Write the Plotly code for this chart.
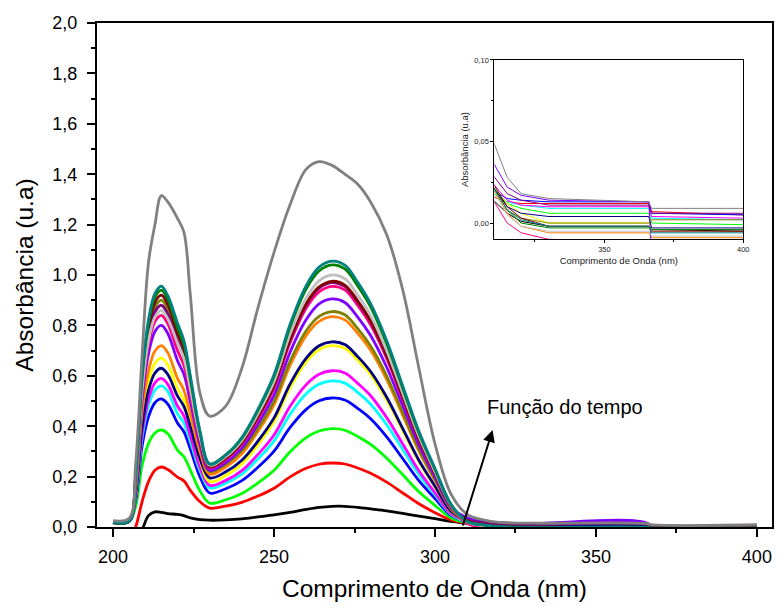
import plotly.graph_objects as go

# ---------------- data ----------------
wavelength_nm = [200, 205, 207, 209, 211, 213, 215, 217, 220, 222, 224, 227, 230, 235, 240,
                 245, 250, 255, 260, 264, 268, 272, 276, 280, 285, 290, 295, 300, 305, 310,
                 315, 320, 330, 366, 367, 400]

abs_black = [-0.10, -0.08, -0.05, -0.01, 0.045, 0.060, 0.058, 0.053, 0.050, 0.045, 0.036, 0.029,
             0.027, 0.028, 0.032, 0.040, 0.048, 0.058, 0.070, 0.078, 0.082, 0.082, 0.078, 0.072,
             0.064, 0.054, 0.043, 0.033, 0.022, 0.014, 0.006, 0.001, -0.002, -0.002, -0.004, -0.005]
abs_red = [-0.10, -0.05, 0.0, 0.10, 0.18, 0.225, 0.238, 0.228, 0.198, 0.183, 0.145, 0.10, 0.075,
           0.083, 0.098, 0.123, 0.154, 0.199, 0.233, 0.249, 0.254, 0.25, 0.234, 0.213, 0.178, 0.135,
           0.092, 0.057, 0.028, 0.016, 0.013, 0.012, 0.012, 0.012, 0.007, 0.005]
abs_green = [0.016, 0.022, 0.081, 0.243, 0.331, 0.373, 0.385, 0.37, 0.305, 0.279, 0.226, 0.143,
             0.095, 0.108, 0.133, 0.175, 0.225, 0.299, 0.355, 0.381, 0.39, 0.384, 0.359, 0.328,
             0.273, 0.207, 0.14, 0.086, 0.036, 0.018, 0.012, 0.009, 0.006, 0.006, 0.0, -0.001]
abs_blue = [0.016, 0.022, 0.107, 0.32, 0.437, 0.493, 0.508, 0.488, 0.413, 0.378, 0.309, 0.199,
            0.135, 0.152, 0.184, 0.237, 0.301, 0.395, 0.467, 0.501, 0.512, 0.504, 0.471, 0.43,
            0.358, 0.271, 0.184, 0.113, 0.046, 0.02, 0.015, 0.014, 0.013, 0.013, 0.006, 0.005]
abs_cyan = [0.016, 0.022, 0.118, 0.353, 0.482, 0.543, 0.56, 0.538, 0.45, 0.413, 0.339, 0.223,
            0.155, 0.174, 0.210, 0.270, 0.342, 0.448, 0.529, 0.567, 0.58, 0.571, 0.534, 0.487,
            0.406, 0.307, 0.209, 0.128, 0.05, 0.02, 0.013, 0.011, 0.009, 0.009, 0.003, 0.002]
abs_magenta = [0.017, 0.023, 0.124, 0.372, 0.507, 0.572, 0.59, 0.566, 0.48, 0.441, 0.362, 0.237,
               0.165, 0.185, 0.224, 0.288, 0.365, 0.479, 0.565, 0.606, 0.62, 0.611, 0.57, 0.521,
               0.434, 0.329, 0.223, 0.136, 0.053, 0.024, 0.014, 0.011, 0.010, 0.010, 0.004, 0.003]
abs_yellow = [0.017, 0.023, 0.141, 0.422, 0.576, 0.65, 0.67, 0.643, 0.55, 0.504, 0.411, 0.265,
              0.18, 0.204, 0.250, 0.326, 0.418, 0.553, 0.655, 0.704, 0.72, 0.709, 0.662, 0.605,
              0.504, 0.382, 0.259, 0.158, 0.061, 0.022, 0.012, 0.006, 0.0, 0.0, -0.004, -0.004]
abs_navy = [0.017, 0.023, 0.132, 0.397, 0.542, 0.611, 0.63, 0.605, 0.52, 0.479, 0.398, 0.27,
            0.195, 0.219, 0.265, 0.341, 0.433, 0.568, 0.67, 0.719, 0.735, 0.724, 0.676, 0.617,
            0.515, 0.39, 0.265, 0.162, 0.062, 0.022, 0.01, 0.006, 0.004, 0.004, -0.003, -0.003]
abs_orange = [0.017, 0.023, 0.151, 0.454, 0.619, 0.698, 0.72, 0.691, 0.59, 0.543, 0.448, 0.297,
              0.21, 0.238, 0.291, 0.379, 0.485, 0.641, 0.76, 0.816, 0.835, 0.822, 0.768, 0.701,
              0.585, 0.443, 0.301, 0.184, 0.071, 0.021, 0.006, -0.002, -0.006, -0.006, -0.009, -0.009]
abs_olive = [0.018, 0.024, 0.189, 0.567, 0.774, 0.873, 0.90, 0.864, 0.74, 0.675, 0.545, 0.34,
             0.22, 0.249, 0.303, 0.391, 0.499, 0.658, 0.779, 0.836, 0.855, 0.842, 0.787, 0.718,
             0.599, 0.453, 0.308, 0.188, 0.073, 0.022, 0.008, 0.003, 0.0, 0.0, 0.002, 0.002]
abs_violet = [0.018, 0.024, 0.168, 0.504, 0.688, 0.776, 0.80, 0.768, 0.66, 0.606, 0.497, 0.325,
              0.225, 0.256, 0.313, 0.409, 0.524, 0.694, 0.823, 0.885, 0.905, 0.891, 0.833, 0.76,
              0.634, 0.48, 0.326, 0.199, 0.077, 0.037, 0.022, 0.017, 0.014, 0.013, -0.02, -0.02]
abs_pink = [0.018, 0.024, 0.176, 0.529, 0.722, 0.815, 0.84, 0.806, 0.70, 0.642, 0.526, 0.342,
            0.235, 0.267, 0.329, 0.429, 0.552, 0.732, 0.869, 0.933, 0.955, 0.941, 0.879, 0.802,
            0.669, 0.506, 0.344, 0.21, 0.081, 0.014, 0.0, -0.006, -0.01, -0.011, -0.012, -0.012]
abs_purple = [0.018, 0.024, 0.185, 0.554, 0.757, 0.854, 0.88, 0.845, 0.74, 0.678, 0.553, 0.355,
              0.24, 0.273, 0.335, 0.437, 0.561, 0.744, 0.882, 0.948, 0.97, 0.955, 0.892, 0.815,
              0.679, 0.514, 0.349, 0.213, 0.082, 0.029, 0.018, 0.014, 0.011, 0.011, 0.006, 0.006]
abs_darkred = [0.018, 0.024, 0.193, 0.58, 0.791, 0.892, 0.92, 0.883, 0.77, 0.704, 0.571, 0.362,
               0.24, 0.273, 0.336, 0.438, 0.563, 0.747, 0.887, 0.953, 0.975, 0.96, 0.897, 0.819,
               0.683, 0.517, 0.351, 0.215, 0.083, 0.024, 0.01, 0.003, -0.002, -0.002, -0.005, -0.005]
abs_silver = [0.02, 0.026, 0.181, 0.542, 0.74, 0.834, 0.86, 0.826, 0.73, 0.669, 0.548, 0.357,
              0.245, 0.279, 0.343, 0.449, 0.577, 0.766, 0.909, 0.977, 1.0, 0.985, 0.92, 0.84,
              0.70, 0.53, 0.36, 0.22, 0.085, 0.02, 0.005, -0.002, -0.005, -0.005, -0.008, -0.008]
abs_darkgreen = [0.018, 0.024, 0.197, 0.592, 0.808, 0.912, 0.94, 0.902, 0.79, 0.723, 0.588, 0.374,
                 0.25, 0.286, 0.353, 0.463, 0.598, 0.795, 0.945, 1.016, 1.04, 1.024, 0.957, 0.874,
                 0.728, 0.551, 0.374, 0.229, 0.088, 0.022, 0.008, 0.0, -0.003, -0.003, -0.004, -0.004]
abs_teal = [0.018, 0.024, 0.201, 0.602, 0.822, 0.927, 0.956, 0.918, 0.81, 0.74, 0.60, 0.381,
            0.25, 0.286, 0.355, 0.467, 0.604, 0.805, 0.958, 1.031, 1.055, 1.039, 0.971, 0.886,
            0.739, 0.559, 0.38, 0.232, 0.09, 0.022, 0.008, 0.002, -0.002, -0.002, -0.006, -0.006]
abs_gray = [0.025, 0.035, 0.25, 0.68, 1.05, 1.20, 1.315, 1.29, 1.225, 1.17, 0.92, 0.53,
            0.44, 0.48, 0.63, 0.87, 1.09, 1.28, 1.42, 1.45, 1.435, 1.40, 1.36, 1.29,
            1.16, 0.94, 0.63, 0.33, 0.13, 0.05, 0.028, 0.018, 0.015, 0.013, 0.009, 0.009]

series = [abs_black, abs_red, abs_green, abs_blue, abs_cyan, abs_magenta, abs_yellow, abs_navy,
          abs_orange, abs_olive, abs_violet, abs_pink, abs_purple, abs_darkred, abs_silver,
          abs_darkgreen, abs_teal, abs_gray]
colors = ["#000000", "#ff0000", "#00ff00", "#0000ff", "#00ffff", "#ff00ff", "#ffff00", "#000080",
          "#ff8000", "#808000", "#8000ff", "#ff0080", "#800080", "#800000", "#c0c0c0",
          "#008000", "#008080", "#808080"]

main_x_ticks = [200, 250, 300, 350, 400]
main_y_ticks = [0.0, 0.2, 0.4, 0.6, 0.8, 1.0, 1.2, 1.4, 1.6, 1.8, 2.0]
inset_x_ticks = [350, 400]
inset_y_ticks = [0.0, 0.05, 0.10]

FONT = "Liberation Sans, Arial, sans-serif"

fig = go.Figure()
for ys, c in zip(series, colors):
    fig.add_trace(go.Scatter(x=wavelength_nm, y=ys, mode="lines",
                             line=dict(color=c, width=2.8, shape="spline", smoothing=1.0),
                             xaxis="x", yaxis="y", hoverinfo="skip"))
for ys, c in zip(series, colors):
    fig.add_trace(go.Scatter(x=wavelength_nm, y=ys, mode="lines",
                             line=dict(color=c, width=1),
                             xaxis="x2", yaxis="y2", hoverinfo="skip"))

axis_common = dict(showgrid=False, zeroline=False, showline=True, linecolor="black",
                   mirror=True, ticks="outside", tickcolor="black")

fig.update_layout(
    width=783, height=608,
    margin=dict(l=97, r=5, t=23, b=81),
    paper_bgcolor="white", plot_bgcolor="white",
    showlegend=False,
    separators=",.",
    font=dict(family=FONT, color="black"),
    xaxis=dict(axis_common, range=[195.0, 404.7], tickvals=main_x_ticks,
               ticklen=8, tickwidth=2, linewidth=2,
               minor=dict(dtick=25, ticklen=4, tickwidth=2, ticks="outside", tickcolor="black"),
               tickfont=dict(size=18), ticklabelstandoff=4,
               title=dict(text="Comprimento de Onda (nm)", font=dict(size=24.5), standoff=14)),
    yaxis=dict(axis_common, range=[0, 2.0], tickvals=main_y_ticks, tickformat=".1f",
               ticklen=8, tickwidth=2, linewidth=2,
               minor=dict(dtick=0.1, ticklen=4, tickwidth=2, ticks="outside", tickcolor="black"),
               tickfont=dict(size=18), ticklabelstandoff=6,
               title=dict(text="Absorbância (u.a)", font=dict(size=24.5), standoff=12)),
    xaxis2=dict(axis_common, domain=[0.5888, 0.9574], anchor="y2", range=[310.4, 400],
                tickvals=inset_x_ticks, ticklen=3, tickwidth=1, linewidth=1,
                minor=dict(dtick=25, ticklen=2, tickwidth=1, ticks="outside", tickcolor="black"),
                tickfont=dict(size=7.5, color="#222"),
                title=dict(text="Comprimento de Onda (nm)", font=dict(size=9.5, color="#222"),
                           standoff=4)),
    yaxis2=dict(axis_common, domain=[0.5714, 0.9266], anchor="x2", range=[-0.0098, 0.10],
                tickvals=inset_y_ticks, tickformat=".2f", ticklen=3, tickwidth=1, linewidth=1,
                minor=dict(dtick=0.025, ticklen=2, tickwidth=1, ticks="outside", tickcolor="black"),
                tickfont=dict(size=7.5, color="#222"),
                title=dict(text="Absorbância (u.a)", font=dict(size=9.5, color="#222"),
                           standoff=4)),
)

fig.add_annotation(x=317.9, y=0.385, ax=308.5, ay=0.0, xref="x", yref="y", axref="x", ayref="y",
                   text="", showarrow=True, arrowhead=2, arrowsize=1.2, arrowwidth=2,
                   arrowcolor="black")
fig.add_annotation(x=315.5, y=0.476, xref="x", yref="y", text="Função do tempo",
                   showarrow=False, xanchor="left", yanchor="middle",
                   font=dict(size=20, color="black", family=FONT))

fig.write_html("out.html")
